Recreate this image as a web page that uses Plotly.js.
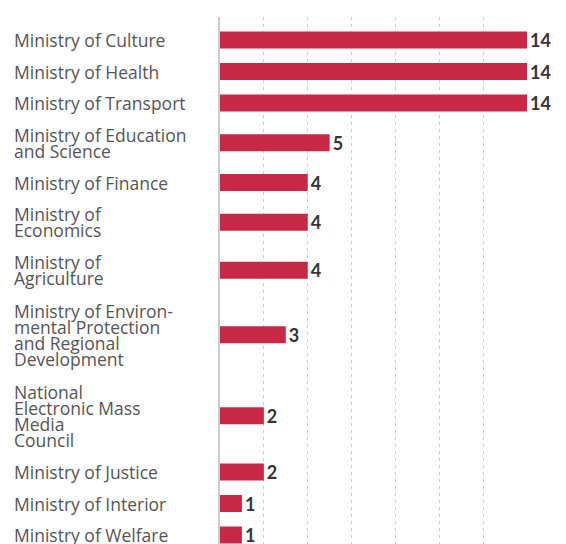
<!DOCTYPE html>
<html><head><meta charset="utf-8">
<script src="https://cdn.plot.ly/plotly-3.0.1.min.js"></script>
<style>html,body{margin:0;padding:0;background:#fff}</style>
</head><body><div id="chart" style="width:566px;height:544px"></div>
<script>
const categories = [
  "Ministry of Culture",
  "Ministry of Health",
  "Ministry of Transport",
  "Ministry of Education<br>and Science",
  "Ministry of Finance",
  "Ministry of<br>Economics",
  "Ministry of<br>Agriculture",
  "Ministry of Environ-<br>mental Protection<br>and Regional<br>Development",
  "National<br>Electronic Mass<br>Media<br>Council",
  "Ministry of Justice",
  "Ministry of Interior",
  "Ministry of Welfare"
];
const values = [14, 14, 14, 5, 4, 4, 4, 3, 2, 2, 1, 1];

// row layout derived from number of label lines
const LINE = 16.5, BASE = 15;
const lines = categories.map(c => c.split("<br>"));
const heights = lines.map(l => BASE + LINE * l.length);
const centers = [];
heights.forEach((h, i) => {
  centers.push(i === 0 ? 0 : centers[i - 1] + (heights[i - 1] + h) / 2);
});
const TOP = 23, PLOT_H = 527;

const annotations = [];
lines.forEach((ls, i) => {
  ls.forEach((t, k) => {
    annotations.push({
      text: t, xref: "paper", yref: "y",
      x: (12 - 220) / 307, y: centers[i] + (k - (ls.length - 1) / 2) * 16,
      xanchor: "left", yanchor: "middle", showarrow: false, align: "left",
      font: {family: "Open Sans", size: 17.5, color: "#555"}
    });
  });
});

Plotly.newPlot("chart", [{
  type: "bar", orientation: "h",
  x: values, y: centers, width: 17,
  marker: {color: "#c62846"},
  text: values.map(String), textposition: "outside", cliponaxis: false,
  constraintext: "none",
  textfont: {family: "Lato", size: 18, color: "#333", weight: "bold"},
  hoverinfo: "skip"
}], {
  width: 566, height: 544,
  margin: {l: 220, r: 39, t: 17, b: 0, pad: 0},
  paper_bgcolor: "#fff", plot_bgcolor: "#fff",
  showlegend: false,
  xaxis: {range: [0, 14], dtick: 2, showgrid: true, gridcolor: "#ccc", griddash: "3px,4px",
          gridwidth: 1, zeroline: false, showticklabels: false, ticks: "", fixedrange: true},
  yaxis: {range: [PLOT_H - TOP, -TOP], autorange: false, showgrid: false, zeroline: false,
          showticklabels: false, ticks: "", showline: true, linecolor: "#ccc", linewidth: 2},
  annotations: annotations
}, {staticPlot: true});
</script></body></html>
